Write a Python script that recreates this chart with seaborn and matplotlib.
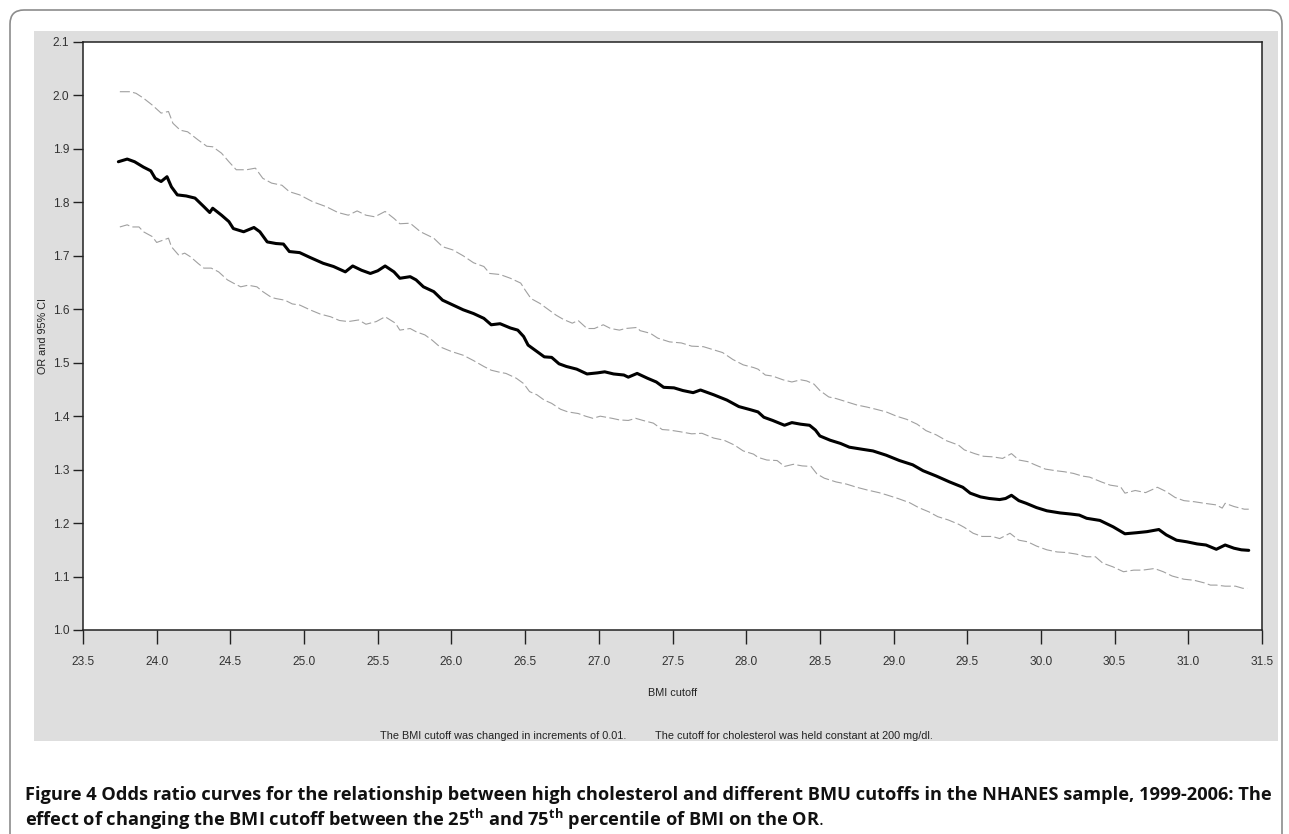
import matplotlib
matplotlib.use("Agg")
import numpy as np
import pandas as pd
import matplotlib.pyplot as plt
import seaborn as sns
from matplotlib.patches import Rectangle, FancyBboxPatch
from matplotlib.transforms import IdentityTransform
from matplotlib.ticker import FormatStrFormatter

# odds ratio
or_bmi = [23.74, 23.80, 23.85, 23.91, 23.96, 23.99, 24.03, 24.07, 24.10, 24.14,
          24.20, 24.26, 24.32, 24.36, 24.38, 24.44, 24.49, 24.52, 24.59, 24.66,
          24.70, 24.75, 24.81, 24.86, 24.90, 24.97, 25.04, 25.13, 25.20, 25.28,
          25.33, 25.39, 25.45, 25.50, 25.55, 25.61, 25.65, 25.72, 25.76, 25.81,
          25.88, 25.94, 26.01, 26.08, 26.15, 26.22, 26.27, 26.33, 26.40, 26.45,
          26.49, 26.52, 26.58, 26.63, 26.68, 26.73, 26.78, 26.85, 26.92, 26.99,
          27.04, 27.10, 27.17, 27.20, 27.26, 27.33, 27.39, 27.44, 27.51, 27.57,
          27.64, 27.69, 27.78, 27.87, 27.95, 28.03, 28.08, 28.12, 28.18, 28.26,
          28.31, 28.37, 28.43, 28.47, 28.50, 28.57, 28.64, 28.70, 28.79, 28.86,
          28.95, 29.04, 29.13, 29.20, 29.29, 29.38, 29.47, 29.52, 29.59, 29.65,
          29.72, 29.76, 29.80, 29.85, 29.90, 29.97, 30.04, 30.13, 30.20, 30.26,
          30.31, 30.40, 30.49, 30.57, 30.65, 30.72, 30.80, 30.85, 30.92, 30.99,
          31.06, 31.12, 31.19, 31.25, 31.31, 31.36, 31.41]
or_vals = [1.876, 1.881, 1.876, 1.866, 1.859, 1.845, 1.839, 1.848, 1.829, 1.814,
           1.812, 1.808, 1.792, 1.781, 1.789, 1.776, 1.764, 1.751, 1.745, 1.753,
           1.745, 1.726, 1.723, 1.722, 1.708, 1.706, 1.697, 1.686, 1.680, 1.670,
           1.681, 1.673, 1.667, 1.672, 1.681, 1.670, 1.658, 1.661, 1.655, 1.642,
           1.633, 1.617, 1.608, 1.599, 1.592, 1.583, 1.571, 1.573, 1.565, 1.561,
           1.549, 1.533, 1.521, 1.511, 1.510, 1.498, 1.493, 1.488, 1.479, 1.481,
           1.483, 1.479, 1.477, 1.473, 1.480, 1.471, 1.464, 1.454, 1.453, 1.448,
           1.444, 1.449, 1.440, 1.430, 1.418, 1.412, 1.408, 1.398, 1.392, 1.383,
           1.388, 1.385, 1.383, 1.374, 1.363, 1.355, 1.349, 1.342, 1.338, 1.335,
           1.327, 1.317, 1.309, 1.298, 1.288, 1.277, 1.267, 1.256, 1.249, 1.246,
           1.244, 1.246, 1.252, 1.242, 1.237, 1.229, 1.223, 1.219, 1.217, 1.215,
           1.209, 1.205, 1.193, 1.180, 1.182, 1.184, 1.188, 1.178, 1.168, 1.165,
           1.161, 1.159, 1.151, 1.159, 1.153, 1.150, 1.149]

# upper 95% CI
upper_bmi = [23.75, 23.82, 23.86, 23.91, 23.97, 24.03, 24.08, 24.11, 24.16, 24.21,
             24.28, 24.34, 24.38, 24.44, 24.49, 24.54, 24.61, 24.67, 24.72, 24.78,
             24.85, 24.90, 24.97, 25.06, 25.15, 25.23, 25.30, 25.36, 25.42, 25.48,
             25.55, 25.61, 25.65, 25.72, 25.79, 25.88, 25.94, 26.01, 26.08, 26.15,
             26.22, 26.26, 26.33, 26.40, 26.47, 26.50, 26.54, 26.60, 26.66, 26.71,
             26.76, 26.82, 26.86, 26.92, 26.97, 27.03, 27.08, 27.14, 27.18, 27.26,
             27.28, 27.35, 27.40, 27.48, 27.56, 27.63, 27.71, 27.78, 27.84, 27.91,
             27.98, 28.05, 28.08, 28.13, 28.18, 28.25, 28.31, 28.37, 28.41, 28.46,
             28.50, 28.56, 28.61, 28.68, 28.75, 28.82, 28.88, 28.95, 29.02, 29.09,
             29.16, 29.22, 29.29, 29.36, 29.44, 29.48, 29.55, 29.61, 29.67, 29.74,
             29.80, 29.85, 29.91, 29.96, 30.03, 30.10, 30.16, 30.22, 30.28, 30.33,
             30.41, 30.47, 30.54, 30.57, 30.64, 30.71, 30.79, 30.85, 30.91, 30.97,
             31.04, 31.11, 31.19, 31.23, 31.25, 31.31, 31.38, 31.41]
upper_vals = [2.007, 2.007, 2.004, 1.995, 1.982, 1.967, 1.970, 1.948, 1.935, 1.932,
              1.917, 1.905, 1.904, 1.892, 1.876, 1.861, 1.861, 1.864, 1.845, 1.836,
              1.832, 1.820, 1.814, 1.801, 1.792, 1.781, 1.776, 1.784, 1.776, 1.773,
              1.783, 1.770, 1.760, 1.761, 1.745, 1.733, 1.717, 1.711, 1.700, 1.687,
              1.680, 1.667, 1.665, 1.658, 1.649, 1.636, 1.620, 1.611, 1.599, 1.589,
              1.581, 1.574, 1.579, 1.564, 1.564, 1.571, 1.564, 1.561, 1.564, 1.566,
              1.560, 1.555, 1.546, 1.539, 1.537, 1.531, 1.530, 1.524, 1.519, 1.506,
              1.496, 1.491, 1.488, 1.477, 1.475, 1.468, 1.464, 1.468, 1.466, 1.460,
              1.448, 1.436, 1.433, 1.427, 1.421, 1.417, 1.413, 1.408, 1.400, 1.394,
              1.385, 1.373, 1.365, 1.354, 1.346, 1.337, 1.330, 1.325, 1.324, 1.321,
              1.330, 1.318, 1.315, 1.309, 1.301, 1.298, 1.296, 1.293, 1.288, 1.286,
              1.277, 1.271, 1.268, 1.256, 1.261, 1.257, 1.267, 1.259, 1.248, 1.242,
              1.240, 1.237, 1.234, 1.228, 1.237, 1.231, 1.226, 1.226]

# lower 95% CI
lower_bmi = [23.75, 23.80, 23.83, 23.88, 23.91, 23.97, 24.00, 24.05, 24.08, 24.10,
             24.15, 24.19, 24.23, 24.28, 24.32, 24.37, 24.42, 24.48, 24.52, 24.57,
             24.62, 24.68, 24.72, 24.78, 24.81, 24.87, 24.92, 24.97, 25.04, 25.11,
             25.18, 25.24, 25.30, 25.37, 25.42, 25.49, 25.55, 25.62, 25.65, 25.72,
             25.76, 25.82, 25.87, 25.92, 26.00, 26.08, 26.15, 26.22, 26.27, 26.33,
             26.37, 26.44, 26.49, 26.53, 26.58, 26.63, 26.68, 26.74, 26.79, 26.86,
             26.91, 26.96, 27.01, 27.09, 27.14, 27.20, 27.25, 27.30, 27.37, 27.43,
             27.48, 27.55, 27.63, 27.70, 27.78, 27.85, 27.92, 27.98, 28.05, 28.08,
             28.14, 28.21, 28.26, 28.32, 28.38, 28.44, 28.48, 28.53, 28.61, 28.68,
             28.75, 28.82, 28.90, 28.95, 29.03, 29.11, 29.17, 29.24, 29.30, 29.37,
             29.44, 29.48, 29.54, 29.60, 29.67, 29.72, 29.79, 29.85, 29.91, 29.97,
             30.04, 30.11, 30.17, 30.24, 30.31, 30.37, 30.42, 30.49, 30.56, 30.63,
             30.69, 30.77, 30.83, 30.89, 30.97, 31.04, 31.11, 31.15, 31.19, 31.25,
             31.32, 31.37, 31.40]
lower_vals = [1.754, 1.758, 1.754, 1.754, 1.745, 1.736, 1.725, 1.730, 1.733, 1.717,
              1.701, 1.705, 1.698, 1.686, 1.677, 1.677, 1.670, 1.655, 1.649, 1.642,
              1.645, 1.642, 1.633, 1.622, 1.620, 1.617, 1.610, 1.608, 1.599, 1.591,
              1.586, 1.579, 1.577, 1.580, 1.572, 1.577, 1.586, 1.574, 1.561, 1.564,
              1.558, 1.552, 1.542, 1.530, 1.521, 1.514, 1.504, 1.493, 1.486, 1.482,
              1.480, 1.471, 1.461, 1.446, 1.440, 1.430, 1.424, 1.413, 1.408, 1.405,
              1.400, 1.396, 1.400, 1.396, 1.393, 1.392, 1.396, 1.392, 1.387, 1.375,
              1.374, 1.371, 1.367, 1.368, 1.359, 1.355, 1.346, 1.335, 1.329, 1.323,
              1.318, 1.317, 1.306, 1.310, 1.307, 1.306, 1.292, 1.284, 1.277, 1.273,
              1.267, 1.262, 1.257, 1.253, 1.246, 1.238, 1.229, 1.221, 1.212, 1.206,
              1.198, 1.192, 1.181, 1.175, 1.175, 1.171, 1.181, 1.168, 1.165, 1.157,
              1.150, 1.146, 1.145, 1.142, 1.137, 1.137, 1.125, 1.118, 1.109, 1.112,
              1.112, 1.115, 1.109, 1.101, 1.095, 1.093, 1.088, 1.084, 1.084, 1.082,
              1.082, 1.078, 1.078]

x_ticks = np.arange(23.5, 31.51, 0.5)
y_ticks = np.arange(1.0, 2.11, 0.1)

W, H = 1289, 834


def fx(px):
    return px / W


def fy(py):
    return 1 - py / H


sns.set_style("ticks")
plt.rcParams['font.family'] = ['Liberation Sans', 'DejaVu Sans']
plt.rcParams['mathtext.fontset'] = 'custom'
plt.rcParams['mathtext.bf'] = 'Open Sans:bold'
plt.rcParams['mathtext.rm'] = 'Open Sans'

fig = plt.figure(figsize=(W / 100, H / 100), dpi=100)

# outer rounded frame and grey panel
frame = FancyBboxPatch((10, -40), 1272, H - 10 + 40,
                       boxstyle="round,pad=0,rounding_size=14",
                       transform=IdentityTransform(), fill=False,
                       edgecolor='#8c8c8c', linewidth=1.2)
fig.add_artist(frame)
fig.add_artist(Rectangle((fx(34), fy(741)), fx(1278) - fx(34), fy(31) - fy(741),
                         transform=fig.transFigure, facecolor='#dedede',
                         edgecolor='none', zorder=0))

ax = fig.add_axes([fx(83), fy(630), fx(1262) - fx(83), fy(42) - fy(630)])
ax.set_facecolor('white')

df_or = pd.DataFrame({'bmi': or_bmi, 'or': or_vals})
df_up = pd.DataFrame({'bmi': upper_bmi, 'ci': upper_vals})
df_lo = pd.DataFrame({'bmi': lower_bmi, 'ci': lower_vals})

sns.lineplot(data=df_up, x='bmi', y='ci', ax=ax, color='#a0a0a0', linewidth=0.8,
             linestyle=(0, (9, 3)), estimator=None)
sns.lineplot(data=df_lo, x='bmi', y='ci', ax=ax, color='#a0a0a0', linewidth=0.8,
             linestyle=(0, (9, 3)), estimator=None)
sns.lineplot(data=df_or, x='bmi', y='or', ax=ax, color='black', linewidth=2.2,
             estimator=None)

ax.set_xlim(23.5, 31.5)
ax.set_ylim(1.0, 2.1)
ax.set_xticks(x_ticks)
ax.set_yticks(y_ticks)
ax.xaxis.set_major_formatter(FormatStrFormatter('%.1f'))
ax.yaxis.set_major_formatter(FormatStrFormatter('%.1f'))
ax.tick_params(axis='x', length=10, width=1, pad=9, labelsize=8.6,
               labelcolor='#333333', color='#222222')
ax.tick_params(axis='y', length=7, width=1, pad=3, labelsize=8.6,
               labelcolor='#333333', color='#222222')
for sp in ax.spines.values():
    sp.set_visible(True)
    sp.set_color('#222222')
    sp.set_linewidth(1.1)

ax.set_xlabel('BMI cutoff', fontsize=7.8, color='#222222', labelpad=14)
ax.set_ylabel('OR and 95% CI', fontsize=7.8, color='#222222', labelpad=3)

fig.text(fx(380), fy(736), 'The BMI cutoff was changed in increments of 0.01.',
         fontsize=7.8, color='#222222', ha='left', va='center')
fig.text(fx(655), fy(736), 'The cutoff for cholesterol was held constant at 200 mg/dl.',
         fontsize=7.8, color='#222222', ha='left', va='center')

cap1 = ('Figure 4 Odds ratio curves for the relationship between high cholesterol and '
        'different BMU cutoffs in the NHANES sample, 1999-2006: The')
cap2 = (r'effect of changing the BMI cutoff between the 25$^{\mathbf{th}}$ and '
        r'75$^{\mathbf{th}}$ percentile of BMI on the OR$\mathrm{.}$')
t1 = fig.text(fx(25), fy(800), cap1, fontsize=12, fontweight='bold', family='Open Sans',
              color='#111111', ha='left', va='baseline')
t2 = fig.text(fx(25), fy(826), cap2, fontsize=12, fontweight='bold', family='Open Sans',
              color='#111111', ha='left', va='baseline')

# fit the first caption line to the panel width
fig.canvas.draw()
w1 = t1.get_window_extent().width
fs = 12 * (1272 - 25) / w1
t1.set_fontsize(fs)
t2.set_fontsize(fs)

fig.savefig('out.png', dpi=100)
